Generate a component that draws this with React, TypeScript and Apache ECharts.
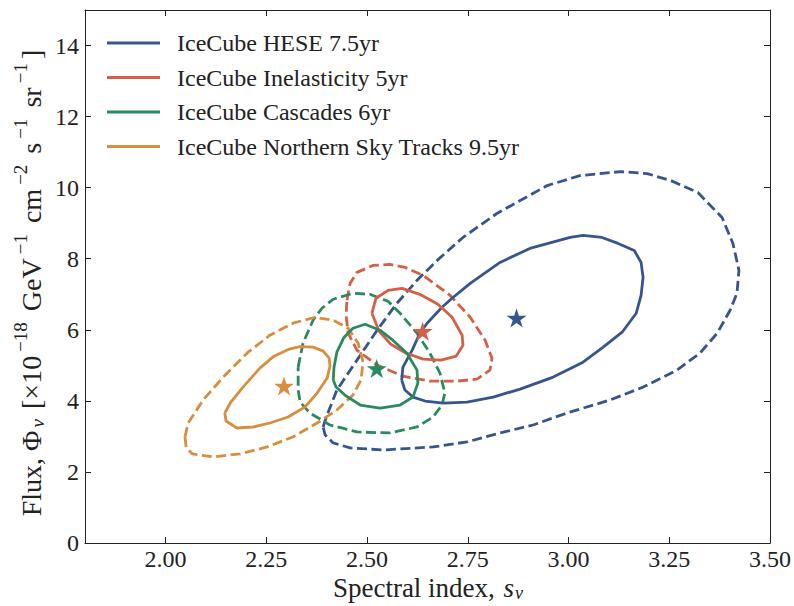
import React, { useEffect, useRef } from "react";
import * as echarts from "echarts";

const FONT = "'Liberation Serif', 'DejaVu Serif', serif";

const xTicks = [2.0, 2.25, 2.5, 2.75, 3.0, 3.25, 3.5];
const yTicks = [0, 2, 4, 6, 8, 10, 12, 14];

const names = [
  "IceCube HESE 7.5yr",
  "IceCube Inelasticity 5yr",
  "IceCube Cascades 6yr",
  "IceCube Northern Sky Tracks 9.5yr",
];
const colors = ["#36558f", "#d65f47", "#2a8a5f", "#d98d3e"];

// HESE 7.5yr
const heseSolid = [
  [2.586, 4.585], [2.594, 4.304], [2.614, 4.107], [2.644, 3.995], [2.689, 3.939],
  [2.748, 3.967], [2.813, 4.107], [2.88, 4.332], [2.962, 4.669], [3.036, 5.09],
  [3.086, 5.511], [3.133, 5.932], [3.168, 6.466], [3.18, 6.971], [3.185, 7.476],
  [3.18, 7.897], [3.163, 8.234], [3.123, 8.431], [3.083, 8.599], [3.036, 8.655],
  [3.004, 8.599], [2.904, 8.29], [2.83, 7.897], [2.756, 7.308], [2.711, 6.887],
  [2.686, 6.634], [2.649, 6.185], [2.631, 5.904], [2.612, 5.427], [2.589, 4.949],
  [2.586, 4.585],
];
const heseDashed = [
  [2.391, 3.265], [2.398, 3.518], [2.425, 4.304], [2.475, 5.146], [2.525, 5.988],
  [2.574, 6.746], [2.624, 7.392], [2.674, 7.953], [2.738, 8.599], [2.822, 9.273],
  [2.88, 9.638], [2.947, 10.059], [3.028, 10.34], [3.13, 10.452], [3.195, 10.396],
  [3.254, 10.199], [3.321, 9.862], [3.381, 9.161], [3.408, 8.431], [3.423, 7.673],
  [3.418, 7.027], [3.401, 6.55], [3.369, 5.904], [3.326, 5.342], [3.269, 4.865],
  [3.185, 4.388], [3.103, 4.023], [2.996, 3.658], [2.912, 3.321], [2.83, 3.097],
  [2.748, 2.844], [2.664, 2.704], [2.582, 2.647], [2.54, 2.619], [2.458, 2.675],
  [2.416, 2.816], [2.396, 3.04], [2.391, 3.265],
];
const heseBest = [2.871, 6.362];

// Inelasticity 5yr
const inelSolid = [
  [2.512, 6.466], [2.522, 6.887], [2.552, 7.111], [2.587, 7.167], [2.631, 6.999],
  [2.676, 6.718], [2.711, 6.353], [2.736, 5.848], [2.738, 5.567], [2.721, 5.258],
  [2.684, 5.146], [2.639, 5.174], [2.597, 5.342], [2.559, 5.595], [2.53, 5.96],
  [2.512, 6.466],
];
const inelDashed = [
  [2.45, 6.831], [2.458, 7.308], [2.475, 7.617], [2.515, 7.813], [2.557, 7.841],
  [2.594, 7.757], [2.639, 7.532], [2.706, 6.971], [2.756, 6.353], [2.793, 5.708],
  [2.81, 5.202], [2.805, 4.865], [2.773, 4.613], [2.723, 4.556], [2.656, 4.556],
  [2.589, 4.697], [2.525, 5.006], [2.475, 5.427], [2.453, 5.904], [2.448, 6.409],
  [2.45, 6.831],
];
const inelBest = [2.638, 5.988];

// Cascades 6yr
const cascSolid = [
  [2.416, 4.585], [2.418, 4.949], [2.425, 5.371], [2.443, 5.792], [2.465, 6.044],
  [2.495, 6.157], [2.532, 5.988], [2.564, 5.708], [2.599, 5.342], [2.624, 4.865],
  [2.626, 4.5], [2.614, 4.107], [2.582, 3.883], [2.532, 3.798], [2.483, 3.883],
  [2.445, 4.163], [2.423, 4.388], [2.416, 4.585],
];
const cascDashed = [
  [2.329, 4.949], [2.341, 5.623], [2.366, 6.269], [2.388, 6.606], [2.416, 6.859],
  [2.465, 7.027], [2.507, 6.999], [2.552, 6.802], [2.582, 6.466], [2.624, 5.904],
  [2.656, 5.342], [2.681, 4.781], [2.693, 4.219], [2.686, 3.883], [2.664, 3.546],
  [2.624, 3.265], [2.557, 3.097], [2.475, 3.125], [2.408, 3.321], [2.358, 3.658],
  [2.334, 3.967], [2.329, 4.304], [2.329, 4.949],
];
const cascBest = [2.524, 4.941];

// Northern Sky Tracks 9.5yr
const nstSolid = [
  [2.147, 3.658], [2.15, 3.433], [2.177, 3.237], [2.217, 3.265], [2.259, 3.377],
  [2.304, 3.546], [2.346, 3.827], [2.376, 4.219], [2.401, 4.641], [2.408, 4.978],
  [2.406, 5.202], [2.391, 5.399], [2.366, 5.511], [2.334, 5.525], [2.306, 5.455],
  [2.269, 5.258], [2.234, 4.921], [2.19, 4.36], [2.162, 3.967], [2.147, 3.658],
];
const nstDashed = [
  [2.048, 2.984], [2.051, 2.704], [2.066, 2.507], [2.118, 2.423], [2.185, 2.507],
  [2.252, 2.704], [2.316, 2.984], [2.376, 3.377], [2.425, 3.742], [2.465, 4.163],
  [2.485, 4.585], [2.49, 5.09], [2.478, 5.623], [2.453, 6.044], [2.416, 6.269],
  [2.371, 6.353], [2.316, 6.185], [2.259, 5.848], [2.202, 5.342], [2.143, 4.669],
  [2.093, 4.023], [2.056, 3.377], [2.048, 2.984],
];
const nstBest = [2.294, 4.444];

const solids = [heseSolid, inelSolid, cascSolid, nstSolid];
const dasheds = [heseDashed, inelDashed, cascDashed, nstDashed];
const bests = [heseBest, inelBest, cascBest, nstBest];

const STAR =
  "path://M50 0L61.23 34.55L97.55 34.55L68.17 55.9L79.39 90.45L50 69.1L20.61 90.45L31.83 55.9L2.45 34.55L38.77 34.55Z";

const AX = "#222";

export default function App() {
  const ref = useRef<HTMLDivElement>(null);
  useEffect(() => {
    const chart = echarts.init(ref.current!, null, { renderer: "svg" });
    const series: any[] = [];
    dasheds.forEach((d, i) => {
      series.push({
        name: names[i] + " (90%)",
        type: "line",
        data: d,
        showSymbol: false,
        symbol: "none",
        smooth: false,
        lineStyle: { color: colors[i], width: 2.8, type: [10, 4.5] },
        itemStyle: { color: colors[i] },
        z: 2,
      });
    });
    solids.forEach((d, i) => {
      series.push({
        name: names[i],
        type: "line",
        data: d,
        showSymbol: false,
        symbol: "none",
        smooth: false,
        lineStyle: { color: colors[i], width: 2.8 },
        itemStyle: { color: colors[i] },
        z: 3,
      });
    });
    bests.forEach((b, i) => {
      series.push({
        name: names[i] + " best fit",
        type: "scatter",
        data: [b],
        symbol: STAR,
        symbolKeepAspect: true,
        symbolSize: 20,
        symbolOffset: [0, 1],
        itemStyle: { color: colors[i], opacity: 1 },
        z: 4,
      });
    });

    const baseText = { fontFamily: FONT, fontSize: 28, color: AX, verticalAlign: "middle", padding: [0, 3, 0, 3] };
    const endText = { ...baseText, padding: [0, 16, 0, 3] };
    const supText = { fontFamily: FONT, fontSize: 19, color: AX, verticalAlign: "middle", padding: [0, 1, 22, 1] };
    const subText = { fontFamily: FONT, fontSize: 19, color: AX, verticalAlign: "middle", padding: [11, 0, 0, 0] };
    const subItText = { ...subText, fontStyle: "italic" };

    const xBase = { fontFamily: FONT, fontSize: 27, color: AX, verticalAlign: "middle", lineHeight: 22, padding: [0, 1, 0, 1] };
    const xIt = { ...xBase, fontStyle: "italic" };
    const xSub = { fontFamily: FONT, fontSize: 18, color: AX, fontStyle: "italic", verticalAlign: "middle", lineHeight: 22, padding: [10, 0, 0, 0] };

    const axisCommon = {
      type: "value",
      axisLine: { show: true, onZero: false, lineStyle: { color: AX, width: 1 } },
      splitLine: { show: false },
    };

    chart.setOption({
      animation: false,
      grid: { left: 85, right: 24, top: 10, bottom: 63, outerBoundsMode: "none", containLabel: false },
      legend: {
        data: names,
        orient: "vertical",
        left: 107,
        top: 30,
        padding: 0,
        icon: "rect",
        itemWidth: 53,
        itemHeight: 3,
        itemGap: 8.5,
        textStyle: { fontFamily: FONT, fontSize: 24, color: AX, lineHeight: 26, padding: [0, 0, 0, 12] },
      },
      xAxis: [
        {
          ...axisCommon,
          min: 1.8,
          max: 3.5,
          position: "bottom",
          axisTick: { show: true, inside: true, length: 6, customValues: xTicks, lineStyle: { color: AX } },
          axisLabel: {
            customValues: xTicks,
            formatter: (v: number) => v.toFixed(2),
            fontFamily: FONT,
            fontSize: 24,
            lineHeight: 18,
            color: AX,
            margin: 7,
          },
          name: "{b|Spectral index, }{i|s}{si|ν}",
          nameLocation: "middle",
          nameGap: 34,
          nameMoveOverlap: false,
          nameTextStyle: { lineHeight: 22, rich: { b: xBase, i: xIt, si: xSub } },
        },
        {
          ...axisCommon,
          min: 1.8,
          max: 3.5,
          position: "top",
          axisTick: { show: true, inside: true, length: 6, customValues: xTicks, lineStyle: { color: AX } },
          axisLabel: { show: false },
        },
      ],
      yAxis: [
        {
          ...axisCommon,
          min: 0,
          max: 15,
          position: "left",
          axisTick: { show: true, inside: true, length: 6, customValues: yTicks, lineStyle: { color: AX } },
          axisLabel: { customValues: yTicks, fontFamily: FONT, fontSize: 24, color: AX, margin: 6 },
          name:
            "{b|Flux, Φ}{si|ν}{b| [×10}{sp|−18}{b| GeV}{sp|−1}{b| cm}{sp|−2}{b| s}{sp|−1}{b| sr}{sp|−1}{e|]}",
          nameLocation: "middle",
          nameGap: 33,
          nameMoveOverlap: false,
          nameTextStyle: { rich: { b: baseText, e: endText, sp: supText, si: subItText } },
        },
        {
          ...axisCommon,
          min: 0,
          max: 15,
          position: "right",
          axisTick: { show: true, inside: true, length: 6, customValues: yTicks, lineStyle: { color: AX } },
          axisLabel: { show: false },
        },
      ],
      series,
    });
    return () => chart.dispose();
  }, []);
  return (
    <div
      ref={ref}
      style={{ position: "fixed", left: 0, top: 0, width: 794, height: 606, background: "#fff" }}
    />
  );
}
